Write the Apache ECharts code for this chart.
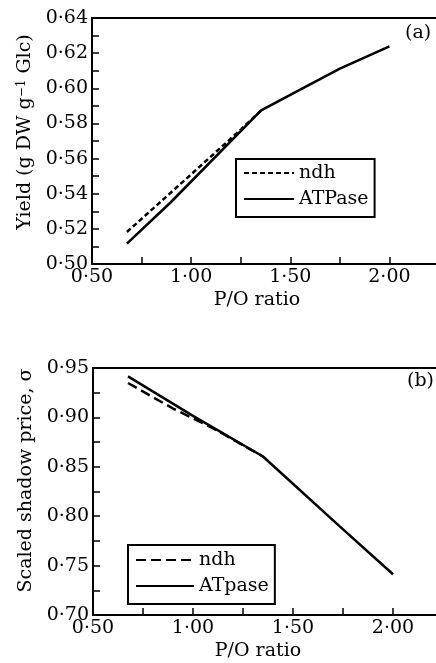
<!DOCTYPE html>
<html>
<head>
<meta charset="utf-8">
<script src="https://cdn.jsdelivr.net/npm/echarts@6/dist/echarts.min.js"></script>
<style>
html, body { margin: 0; padding: 0; background: #fff; }
#chart { width: 436px; height: 663px; }
</style>
</head>
<body>
<div id="chart"></div>
<script>
// panel (a): yield vs P/O ratio
const poAtpaseA = [0.676, 0.896, 1.353, 1.5, 1.75, 2.0]
const atpaseA = [0.5116, 0.535, 0.5874, 0.5962, 0.6112, 0.6238]
const poNdhA = [0.676, 1.0, 1.25, 1.353]
const ndhA = [0.5182, 0.551, 0.5765, 0.5874]

// panel (b): scaled shadow price vs P/O ratio
const poAtpaseB = [0.675, 1.0, 1.35, 1.735, 2.0]
const atpaseB = [0.9415, 0.9015, 0.8604, 0.7895, 0.7412]
const poNdhB = [0.675, 0.9, 1.1, 1.35]
const ndhB = [0.9348, 0.909, 0.889, 0.8604]

// ticks and labels
const xTicks = [0.5, 0.75, 1.0, 1.25, 1.5, 1.75, 2.0]
const xLabels = [0.5, 1.0, 1.5, 2.0]
const yTicksA = [0.5, 0.51, 0.52, 0.53, 0.54, 0.55, 0.56, 0.57, 0.58, 0.59, 0.6, 0.61, 0.62, 0.63, 0.64]
const yLabelsA = [0.5, 0.52, 0.54, 0.56, 0.58, 0.6, 0.62, 0.64]
const yTicksB = [0.7, 0.725, 0.75, 0.775, 0.8, 0.825, 0.85, 0.875, 0.9, 0.925, 0.95]
const yLabelsB = [0.7, 0.75, 0.8, 0.85, 0.9, 0.95]

const font = 'DejaVu Serif'
const zip = (xs, ys) => xs.map((x, i) => [x, ys[i]])
const fmt = v => v.toFixed(2).replace('.', '·')

const mychart = echarts.init(document.getElementById('chart'))

const axisBase = {
  axisLine: { lineStyle: { color: '#000', width: 2 } },
  splitLine: { show: false },
  nameTextStyle: { fontFamily: font, fontSize: 19, color: '#000' }
}

const xAxisFor = (gridIndex, pad) => ({
  ...axisBase,
  type: 'value',
  gridIndex,
  min: 0.5,
  max: 2.25,
  name: 'P/O ratio',
  nameLocation: 'middle',
  nameGap: 27,
  nameTextStyle: { ...axisBase.nameTextStyle, padding: [0, pad, 0, 0] },
  axisTick: { inside: true, length: 7, lineStyle: { color: '#000', width: 1.5 }, customValues: xTicks },
  axisLabel: { customValues: xLabels, formatter: fmt, margin: 4, fontFamily: font, fontSize: 19, color: '#000' }
})

const yAxisFor = (gridIndex, min, max, ticks, labels, name, pad) => ({
  ...axisBase,
  type: 'value',
  gridIndex,
  min,
  max,
  name,
  nameLocation: 'middle',
  nameGap: 57,
  nameTextStyle: {
    ...axisBase.nameTextStyle,
    padding: [0, 0, 0, pad],
    rich: { sup: { fontFamily: font, fontSize: 12, color: '#000', verticalAlign: 'top', padding: [0, 0, 6, 0] } }
  },
  axisTick: { inside: true, length: 7, lineStyle: { color: '#000', width: 1.5 }, customValues: ticks },
  axisLabel: { customValues: labels, formatter: fmt, margin: 4, fontFamily: font, fontSize: 19, color: '#000' }
})

const lineSeries = (name, xi, data, type) => ({
  name,
  type: 'line',
  xAxisIndex: xi,
  yAxisIndex: xi,
  symbol: 'none',
  showSymbol: false,
  silent: true,
  lineStyle: { color: '#000', width: 2.5, type },
  data
})

const legendFor = (data, left, top, itemWidth, padding) => ({
  data,
  left,
  top,
  orient: 'vertical',
  padding,
  itemGap: 6,
  itemWidth,
  itemHeight: 14,
  borderColor: '#000',
  borderWidth: 2,
  selectedMode: false,
  formatter: n => n.trim(),
  itemStyle: { color: 'rgba(0,0,0,0)', borderWidth: 0 },
  textStyle: { fontFamily: font, fontSize: 19, color: '#000', lineHeight: 20 }
})

const option = {
  backgroundColor: '#fff',
  animation: false,
  grid: [
    // plot frames run past the right edge of the page, as in the scan
    { left: 92, top: 18, height: 246, width: 347, outerBoundsMode: 'none', show: true, borderColor: '#000', borderWidth: 2, backgroundColor: 'transparent' },
    { left: 93, top: 368, height: 247, width: 350, outerBoundsMode: 'none', show: true, borderColor: '#000', borderWidth: 2, backgroundColor: 'transparent' }
  ],
  xAxis: [xAxisFor(0, 17), xAxisFor(1, 20)],
  yAxis: [
    yAxisFor(0, 0.5, 0.64, yTicksA, yLabelsA, 'Yield (g DW g{sup|−1} Glc)', 18),
    yAxisFor(1, 0.7, 0.95, yTicksB, yLabelsB, 'Scaled shadow price, σ', 22)
  ],
  legend: [
    legendFor(['ndh', 'ATPase'], 236, 159, 50, [4, 6, 8, 7]),
    legendFor(['ndh ', 'ATpase'], 128, 545, 58, [5, 6, 8, 7])
  ],
  graphic: [
    { type: 'text', left: 405, top: 24, style: { text: '(a)', font: '19px "DejaVu Serif"', fill: '#000' } },
    { type: 'text', left: 407, top: 372, style: { text: '(b)', font: '19px "DejaVu Serif"', fill: '#000' } }
  ],
  series: [
    lineSeries('ndh', 0, zip(poNdhA, ndhA), [5, 3]),
    lineSeries('ATPase', 0, zip(poAtpaseA, atpaseA), 'solid'),
    lineSeries('ndh ', 1, zip(poNdhB, ndhB), [10, 5]),
    lineSeries('ATpase', 1, zip(poAtpaseB, atpaseB), 'solid')
  ]
}
option && mychart.setOption(option)
</script>
</body>
</html>
